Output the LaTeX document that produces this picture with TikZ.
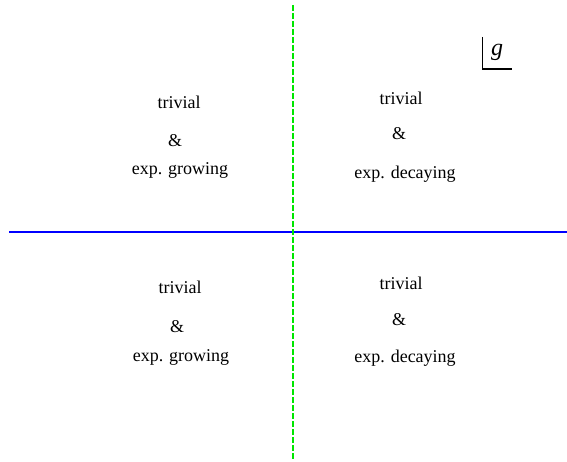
\documentclass[tikz,border=0pt]{standalone}
\usepackage{fontspec}
\setmainfont{Liberation Serif}
\definecolor{axisblue}{RGB}{0,0,255}
\definecolor{axisgreen}{RGB}{0,230,0}

\begin{document}
\begin{tikzpicture}[x=1pt, y=-1pt,
    lbl/.style={inner sep=0pt, font=\fontsize{18}{21}\selectfont}]

  \path[use as bounding box] (0,0) rectangle (567,462);

  % ── 坐标轴端点 ──
  \coordinate (hl) at (9,232.5);
  \coordinate (hr) at (567,232.5);
  \coordinate (vt) at (293,5);
  \coordinate (vb) at (293,459);

  % ── 水平实线（蓝）与竖直虚线（绿）──
  \draw[axisblue, line width=2pt] (hl) -- (hr);
  \draw[axisgreen, line width=2pt, dash pattern=on 6pt off 2pt] (vt) -- (vb);

  % ── 右上角的 g 标记 ──
  \coordinate (gtop) at (482.5,37);
  \coordinate (gcor) at (482.5,69);
  \coordinate (gend) at (512,69);
  \draw[line width=1.3pt] (gtop) -- (gcor) -- (gend);
  \node[lbl, font=\fontsize{24}{28}\selectfont\itshape] (g) at (497,52) {g};

  % ── 左上 ──
  \node[lbl] (tlA) at (179,102) {trivial};
  \node[lbl] (tlB) at (175,141) {\&};
  \node[lbl] (tlC) at (180,170) {exp. growing};

  % ── 右上 ──
  \node[lbl] (trA) at (401,98) {trivial};
  \node[lbl] (trB) at (399,134) {\&};
  \node[lbl] (trC) at (405,174) {exp. decaying};

  % ── 左下 ──
  \node[lbl] (blA) at (180,287) {trivial};
  \node[lbl] (blB) at (177,327) {\&};
  \node[lbl] (blC) at (181,357) {exp. growing};

  % ── 右下 ──
  \node[lbl] (brA) at (401,283) {trivial};
  \node[lbl] (brB) at (399,320) {\&};
  \node[lbl] (brC) at (405,358) {exp. decaying};
\end{tikzpicture}
\end{document}
